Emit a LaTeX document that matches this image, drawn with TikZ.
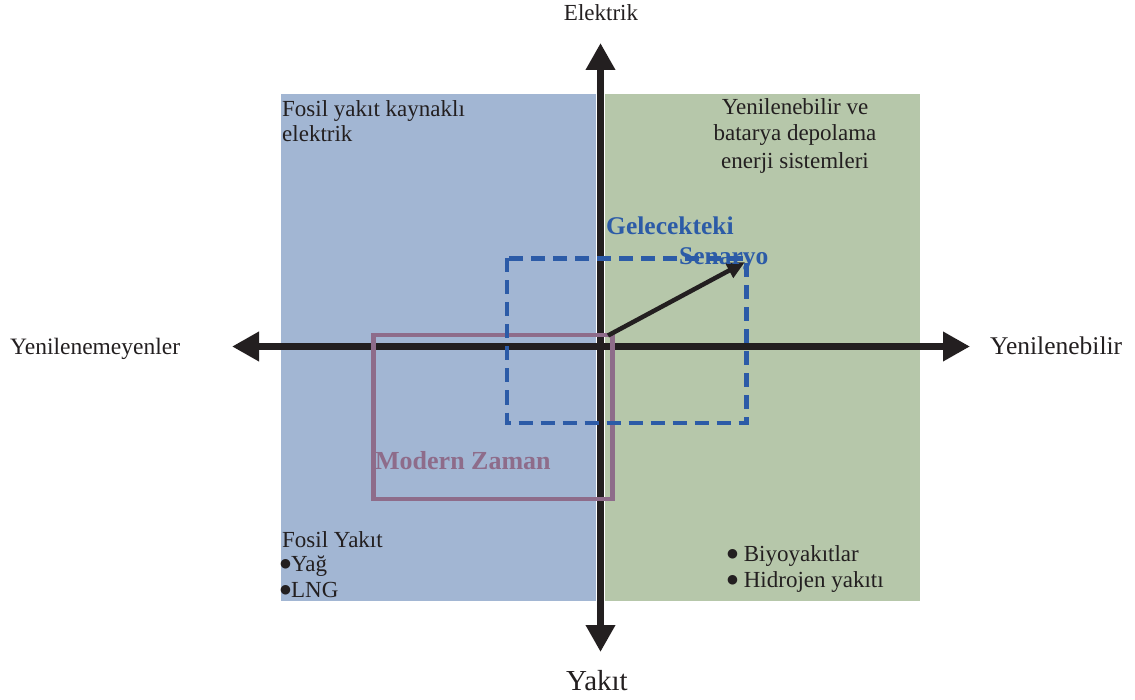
\documentclass[tikz,border=0pt]{standalone}
\usepackage{fontspec}
\setmainfont{Liberation Serif}
\newfontfamily\symfont{DejaVu Sans}
\usetikzlibrary{arrows.meta}

\definecolor{fossilblue}{HTML}{A2B6D3}
\definecolor{renewgreen}{HTML}{B6C7AA}
\definecolor{axisblack}{HTML}{231F20}
\definecolor{modernpurple}{HTML}{8E6C8A}
\definecolor{futureblue}{HTML}{2C5BA7}

% heavy round list bullet
\newcommand{\listdot}{\raisebox{3.5pt}{\symfont\fontsize{12.5}{12.5}\selectfont ●}}

\begin{document}
\begin{tikzpicture}[x=1pt,y=-1pt,
  quadrant/.style={inner sep=0pt, outer sep=0pt, anchor=north west, draw=none},
  body/.style={font=\fontsize{23}{25}\selectfont, inner sep=0pt, text=axisblack},
  axislabel/.style={inner sep=0pt, text=axisblack},
  axisline/.style={draw=axisblack, line width=7pt,
    {Triangle[length=27pt,width=28pt]}-{Triangle[length=27pt,width=28pt]}},
  modernbox/.style={draw=modernpurple, line width=4.5pt},
  futurebox/.style={draw=futureblue, line width=4.5pt, dash pattern=on 14pt off 8pt},
  trend/.style={draw=axisblack, line width=4.5pt, -{Triangle[length=18pt,width=16pt]}},
  boxtitle/.style={inner sep=0pt, font=\bfseries\fontsize{25.5}{28}\selectfont}
]
\useasboundingbox (0,0) rectangle (1135,700);

% quadrant backgrounds
\node[quadrant, fill=fossilblue, minimum width=315pt, minimum height=507pt] (fossil) at (281,94) {};
\node[quadrant, fill=renewgreen, minimum width=315pt, minimum height=507pt] (renew) at (605,94) {};

% axes
\coordinate (north) at (600.5,43);
\coordinate (south) at (600.5,652);
\coordinate (west) at (232,346.5);
\coordinate (east) at (970,346.5);
\draw[axisline] (south) -- (north);
\draw[axisline] (west) -- (east);

% present-day and future regions
\draw[modernbox] (373.5,335) rectangle (612.5,499);
\draw[futurebox] (507,258.5) rectangle (746.5,423);
\coordinate (nowpt) at (608,335.5);
\coordinate (futurept) at (745,262);
\draw[trend] (nowpt) -- (futurept);

% axis labels
\node[axislabel, anchor=base, font=\fontsize{23}{25}\selectfont] (lblup) at (601,21) {Elektrik};
\node[axislabel, anchor=base, font=\fontsize{29}{32}\selectfont] (lbldown) at (597,690) {Yakıt};
\node[axislabel, anchor=base west, font=\fontsize{23.5}{26}\selectfont] (lblleft) at (10,355) {Yenilenemeyenler};
\node[axislabel, anchor=base west, font=\fontsize{25.5}{28}\selectfont] (lblright) at (990,355) {Yenilenebilir};

% quadrant texts
\node[body, anchor=base west] (tl1) at (282,117) {Fosil yakıt kaynaklı};
\node[body, anchor=base west] (tl2) at (282,142) {elektrik};

\node[body, anchor=base] (tr1) at (795,115) {Yenilenebilir ve};
\node[body, anchor=base] (tr2) at (795,141) {batarya depolama};
\node[body, anchor=base] (tr3) at (795,169) {enerji sistemleri};

\node[body, anchor=base west] (bl1) at (282,547) {Fosil Yakıt};
\node[body, anchor=base west] (bl2) at (280,571) {\listdot Yağ};
\node[body, anchor=base west] (bl3) at (280,597) {\listdot LNG};

\node[body, anchor=base west] (br1) at (727,561) {\listdot\ Biyoyakıtlar};
\node[body, anchor=base west] (br2) at (727,587) {\listdot\ Hidrojen yakıtı};

% region titles
\node[boxtitle, text=futureblue, anchor=base west] (fut1) at (606,235) {Gelecekteki};
\node[boxtitle, text=futureblue, anchor=base west] (fut2) at (679,265) {Senaryo};
\node[boxtitle, text=modernpurple, anchor=base west, font=\bfseries\fontsize{26}{28}\selectfont] (modern) at (375,469) {Modern Zaman};
\end{tikzpicture}
\end{document}
